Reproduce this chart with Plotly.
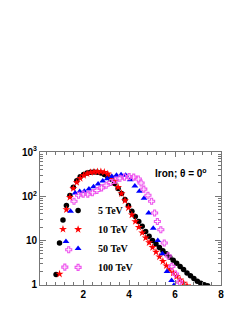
import plotly.graph_objects as go

# 5 TeV (black circles)
x_5 = [0.82, 0.97, 1.12, 1.27, 1.42, 1.57, 1.72, 1.87, 2.02, 2.17, 2.32, 2.47, 2.62, 2.77,
       2.92, 3.07, 3.22, 3.37, 3.52, 3.67, 3.82, 3.97, 4.12, 4.27, 4.42, 4.57, 4.72, 4.87,
       5.02, 5.17, 5.32, 5.47, 5.62, 5.77, 5.92, 6.07, 6.22, 6.37, 6.52, 6.67, 6.82, 6.97,
       7.12, 7.27, 7.42]
y_5 = [1.7, 8.8, 29, 62, 104, 160, 225, 275, 310, 335, 350, 355, 350, 335,
       310, 280, 240, 195, 150, 115, 85, 62, 46, 35, 27, 21, 16, 12.5,
       10, 8.3, 7.0, 5.9, 5.0, 4.2, 3.6, 3.05, 2.6, 2.2, 1.85, 1.6, 1.38, 1.2,
       1.08, 1.0, 0.95]

# 10 TeV (red stars)
x_10 = [0.97, 1.12, 1.27, 1.42, 1.57, 1.72, 1.87, 2.02, 2.17, 2.32, 2.47, 2.62, 2.77, 2.92,
        3.07, 3.22, 3.37, 3.52, 3.67, 3.82, 3.97, 4.12, 4.27, 4.42, 4.57, 4.72, 4.87, 5.02,
        5.17, 5.32, 5.47, 5.62, 5.77, 5.92, 6.07, 6.22, 6.37, 6.52, 6.67]
y_10 = [1.75, 18, 50, 95, 150, 205, 255, 295, 325, 345, 355, 360, 360, 350,
        320, 270, 215, 160, 115, 80, 55, 38, 27, 20, 15, 11.5, 9, 7.0,
        5.5, 4.3, 3.4, 2.7, 2.2, 1.85, 1.55, 1.3, 1.1, 0.95, 0.84]

# 50 TeV (blue triangles)
x_50 = [1.25, 1.45, 1.65, 1.85, 2.05, 2.25, 2.45, 2.65, 2.85, 3.05, 3.25, 3.45, 3.65, 3.85,
        4.05, 4.25, 4.45, 4.65, 4.85, 5.05, 5.25, 5.45, 5.65, 5.85, 5.95]
y_50 = [9.5, 46, 118, 128, 130, 145, 165, 190, 220, 250, 278, 298, 308, 300,
        235, 170, 130, 90, 42, 19, 10, 5, 2.0, 1.25, 0.97]

# 100 TeV (magenta open crosses)
x_100 = [1.2, 1.37, 1.6, 1.8, 2.0, 2.2, 2.4, 2.6, 2.8, 3.0, 3.2, 3.4, 3.6, 3.8, 4.0,
         4.2, 4.4, 4.52, 4.64, 4.82, 4.98, 5.11, 5.23, 5.38, 5.53, 5.7, 5.86, 6.02, 6.2]
y_100 = [2.5, 6.2, 77, 105, 112, 112, 120, 135, 155, 178, 205, 230, 255, 270, 278,
         270, 245, 200, 145, 105, 77, 42, 27, 17.5, 8.8, 4.5, 2.6, 1.75, 1.15]

labels = ["5 TeV", "10 TeV", "50 TeV", "100 TeV"]
xticks = [2, 4, 6, 8]
yticks = [1, 10, 100, 1000]
yticktext = ["1", "10", "10<sup>2</sup>", "10<sup>3</sup>"]

fig = go.Figure()
fig.add_trace(go.Scatter(x=x_5, y=y_5, mode="markers", name=labels[0],
                         marker=dict(symbol="circle", size=5.5, color="black", line=dict(width=0))))
fig.add_trace(go.Scatter(x=x_10, y=y_10, mode="markers", name=labels[1],
                         marker=dict(symbol="star", size=6, color="#ff0000", line=dict(width=0))))
fig.add_trace(go.Scatter(x=x_50, y=y_50, mode="markers", name=labels[2],
                         marker=dict(symbol="triangle-up", size=6, color="#0000ff", line=dict(width=0))))
fig.add_trace(go.Scatter(x=x_100, y=y_100, mode="markers", name=labels[3],
                         marker=dict(symbol="cross-open", size=5, color="#ee55ee", line=dict(width=1.1))))

axis_common = dict(showgrid=False, zeroline=False, showline=True, linecolor="#777777",
                   linewidth=1, mirror="ticks", ticks="inside", tickcolor="#777777",
                   tickfont=dict(family="Liberation Sans", size=10, color="black", weight="bold"))

fig.update_xaxes(range=[0.12, 8], tickvals=xticks, ticklen=5,
                 minor=dict(ticks="inside", ticklen=3, dtick=0.4, tick0=0, tickcolor="#777777"),
                 **axis_common)
fig.update_yaxes(type="log", range=[-0.005, 3], tickvals=yticks, ticktext=yticktext, ticklen=6,
                 minor=dict(ticks="inside", ticklen=3, dtick="D1", tickcolor="#777777"),
                 **axis_common)

fig.add_annotation(text="Iron; θ = 0<sup>o</sup>", xref="paper", yref="paper",
                   x=0.935, y=0.84, xanchor="right", yanchor="middle", showarrow=False,
                   font=dict(family="Liberation Sans", size=10, color="black", weight="bold"))

# page body has an 8px margin, so the figure is drawn 8px smaller with matching offsets
fig.update_layout(
    width=239, height=311,
    margin=dict(l=32, r=26, t=144, b=34),
    paper_bgcolor="white", plot_bgcolor="white",
    showlegend=True,
    legend=dict(x=0.1, y=0.67, xanchor="left", yanchor="top",
                bgcolor="rgba(0,0,0,0)", itemwidth=30, tracegroupgap=0,
                font=dict(family="Liberation Serif", size=10, color="black", weight="bold")),
)

fig.write_html("out.html")
